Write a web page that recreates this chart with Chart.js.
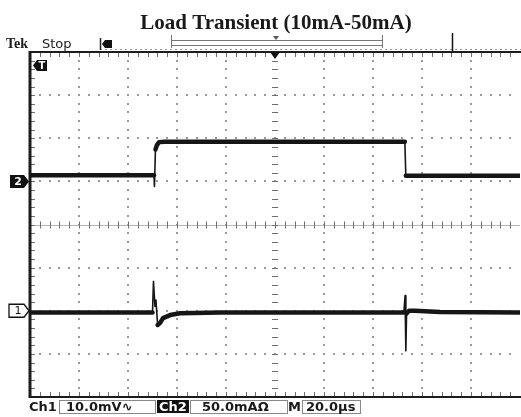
<!DOCTYPE html>
<html>
<head>
<meta charset="utf-8">
<script src="https://cdn.jsdelivr.net/npm/chart.js@4.4.0/dist/chart.umd.min.js"></script>
<style>
  body { margin: 0; background: #fff; }
  #wrap { position: relative; width: 521px; height: 417px; }
</style>
</head>
<body>
<div id="wrap"><canvas id="scopeChart"></canvas></div>
<script>
// time from trigger, µs (20 µs/div, 10 div)
// CH1: output voltage deviation, mV (10 mV/div)
const ch1Time   = [-100, -50.0, -49.6, -49.0, -48.6, -47.9, -46.9, -45.7, -42.8, -38.8, -22.4, 52.6, 53.1, 53.4, 53.7, 54.7, 57.1, 67.3, 100];
const ch1Values = [-0.4, -0.4,   6.8,   1.0,   2.5,  -3.3,  -2.8,  -1.7,  -1.0,  -0.6,  -0.4, -0.4,  3.5, -9.3, -0.6,  0.0,  0.0, -0.3, -0.4];

// CH2: load current, mA (50 mA/div)
const ch2Time   = [-100, -49.4, -49.2, -48.8, -48.2, -47.3, -45.0, 53.0, 53.4, 100];
const ch2Values = [7,     7,    -6,    37,    42,    45.5,  46,    46,   6.5,  6.5];

const titleText = "Load Transient (10mA-50mA)";
const statusLabels = ["Tek", "Stop"];
const readoutLabels = ["Ch1", "10.0mV\u223F", "Ch2", "50.0mA\u03A9", "M", "20.0\u00B5s"];

function toPoints(xs, ys) {
  return xs.map((x, i) => ({ x: x, y: ys[i] }));
}

const graticule = {
  id: "graticule",
  beforeDatasetsDraw(chart) {
    const { ctx, chartArea: a } = chart;
    const dx = (a.right - a.left) / 10;
    const dy = (a.bottom - a.top) / 8;
    const cx = a.left + 5 * dx;
    const cy = a.top + 4 * dy;
    ctx.save();

    // dotted major lines
    ctx.fillStyle = "#9a9a9a";
    for (let i = 1; i < 10; i++) {
      if (i === 5) continue;
      const x = Math.round(a.left + i * dx);
      for (let j = 1; j < 40; j++) ctx.fillRect(x - 1, Math.round(a.top + j * dy / 5) - 1, 2, 2);
    }
    for (let k = 1; k < 8; k++) {
      if (k === 4) continue;
      const y = Math.round(a.top + k * dy);
      for (let m = 1; m < 50; m++) ctx.fillRect(Math.round(a.left + m * dx / 5) - 1, y - 1, 2, 2);
    }

    // centre cross
    ctx.strokeStyle = "#b5b5b5";
    ctx.lineWidth = 1;
    ctx.beginPath();
    ctx.moveTo(a.left, Math.round(cy) + 0.5);
    ctx.lineTo(a.right, Math.round(cy) + 0.5);
    ctx.stroke();

    ctx.strokeStyle = "#6e6e6e";
    ctx.beginPath();
    for (let j = 1; j < 40; j++) {
      const y = Math.round(a.top + j * dy / 5) + 0.5;
      ctx.moveTo(cx - 3, y); ctx.lineTo(cx + 3, y);
      ctx.moveTo(a.left, y); ctx.lineTo(a.left + 5, y);
    }
    for (let m = 1; m < 50; m++) {
      const x = Math.round(a.left + m * dx / 5) + 0.5;
      ctx.moveTo(x, cy - 3); ctx.lineTo(x, cy + 4);
      ctx.moveTo(x, a.top); ctx.lineTo(x, a.top + 5);
      ctx.moveTo(x, a.bottom); ctx.lineTo(x, a.bottom - 5);
    }
    ctx.stroke();

    // frame
    ctx.strokeStyle = "#1c1c1c";
    ctx.lineWidth = 3;
    ctx.beginPath();
    ctx.moveTo(a.left, a.top - 1); ctx.lineTo(a.left, a.bottom + 1);
    ctx.stroke();
    ctx.lineWidth = 2;
    ctx.beginPath();
    ctx.moveTo(a.left, a.top); ctx.lineTo(chart.width, a.top);
    ctx.moveTo(a.left, a.bottom); ctx.lineTo(chart.width, a.bottom);
    ctx.stroke();
    ctx.restore();
  },
  afterDraw(chart) {
    const { ctx, chartArea: a } = chart;
    const xs = chart.scales.x;
    const y1 = chart.scales.y1;
    const y2 = chart.scales.y2;
    ctx.save();

    // title
    ctx.fillStyle = "#1a1a1a";
    ctx.textAlign = "center";
    ctx.textBaseline = "alphabetic";
    ctx.font = 'bold 21px "Liberation Serif"';
    ctx.fillText(titleText, 276, 29);

    // status line
    ctx.textAlign = "left";
    ctx.font = 'bold 14px "Liberation Serif"';
    ctx.fillText(statusLabels[0], 6, 48);
    ctx.font = '13px "DejaVu Sans"';
    ctx.fillText(statusLabels[1], 42, 48);

    ctx.strokeStyle = "#999";
    ctx.lineWidth = 1;
    ctx.setLineDash([2, 3]);
    ctx.beginPath();
    ctx.moveTo(100, 49.5); ctx.lineTo(chart.width, 49.5);
    ctx.stroke();
    ctx.setLineDash([]);

    // record position marker
    ctx.strokeStyle = "#222";
    ctx.lineWidth = 1.5;
    ctx.beginPath();
    ctx.moveTo(100.5, 38); ctx.lineTo(100.5, 50);
    ctx.stroke();
    ctx.fillStyle = "#111";
    ctx.beginPath();
    ctx.moveTo(102, 44); ctx.lineTo(105, 40); ctx.lineTo(112, 40); ctx.lineTo(112, 48); ctx.lineTo(105, 48);
    ctx.closePath(); ctx.fill();

    // acquisition window bracket
    ctx.strokeStyle = "#777";
    ctx.lineWidth = 1;
    ctx.strokeRect(171.5, 40.5, 211, 5);
    ctx.beginPath();
    ctx.moveTo(171.5, 35); ctx.lineTo(171.5, 48);
    ctx.moveTo(382.5, 35); ctx.lineTo(382.5, 48);
    ctx.stroke();
    ctx.fillStyle = "#555";
    ctx.beginPath();
    ctx.moveTo(273, 36); ctx.lineTo(279, 36); ctx.lineTo(276, 40);
    ctx.closePath(); ctx.fill();

    ctx.strokeStyle = "#111";
    ctx.lineWidth = 1.5;
    ctx.beginPath();
    ctx.moveTo(452.5, 33); ctx.lineTo(452.5, 51);
    ctx.stroke();

    // trigger time marker
    const tx = xs.getPixelForValue(0);
    ctx.fillStyle = "#111";
    ctx.beginPath();
    ctx.moveTo(tx - 5, a.top); ctx.lineTo(tx + 5, a.top); ctx.lineTo(tx, a.top + 7);
    ctx.closePath(); ctx.fill();

    // trigger level marker
    ctx.beginPath();
    ctx.moveTo(33, 65.5); ctx.lineTo(37, 60); ctx.lineTo(47, 60); ctx.lineTo(47, 71); ctx.lineTo(37, 71);
    ctx.closePath(); ctx.fill();
    ctx.fillStyle = "#fff";
    ctx.font = 'bold 10px "DejaVu Sans"';
    ctx.textAlign = "center";
    ctx.textBaseline = "middle";
    ctx.fillText("T", 42, 66);

    // channel ground markers
    const g2 = y2.getPixelForValue(0);
    ctx.fillStyle = "#111";
    ctx.beginPath();
    ctx.moveTo(10, g2 - 6.5); ctx.lineTo(24, g2 - 6.5); ctx.lineTo(29, g2); ctx.lineTo(24, g2 + 6.5); ctx.lineTo(10, g2 + 6.5);
    ctx.closePath(); ctx.fill();
    ctx.fillStyle = "#fff";
    ctx.font = 'bold 11px "DejaVu Sans"';
    ctx.fillText("2", 18, g2 + 0.5);

    const g1 = y1.getPixelForValue(0);
    ctx.fillStyle = "#fff";
    ctx.strokeStyle = "#111";
    ctx.lineWidth = 1.3;
    ctx.beginPath();
    ctx.moveTo(9, g1 - 6.5); ctx.lineTo(24, g1 - 6.5); ctx.lineTo(29, g1); ctx.lineTo(24, g1 + 6.5); ctx.lineTo(9, g1 + 6.5);
    ctx.closePath(); ctx.fill(); ctx.stroke();
    ctx.fillStyle = "#111";
    ctx.font = '11px "DejaVu Sans"';
    ctx.fillText("1", 18, g1 + 0.5);

    // bottom readout
    ctx.textAlign = "left";
    ctx.textBaseline = "alphabetic";
    ctx.font = 'bold 13px "DejaVu Sans"';
    ctx.fillStyle = "#1a1a1a";
    ctx.fillText(readoutLabels[0], 29, 411);
    ctx.strokeStyle = "#888";
    ctx.lineWidth = 1;
    ctx.strokeRect(59.5, 400.5, 96, 13);
    ctx.fillText(readoutLabels[1], 66, 411);
    ctx.fillStyle = "#111";
    ctx.fillRect(157, 400, 32, 13);
    ctx.fillStyle = "#fff";
    ctx.fillText(readoutLabels[2], 159, 411);
    ctx.fillStyle = "#1a1a1a";
    ctx.strokeRect(190.5, 400.5, 97, 13);
    ctx.fillText(readoutLabels[3], 202, 411);
    ctx.fillText(readoutLabels[4], 288, 411);
    ctx.strokeRect(302.5, 400.5, 58, 13);
    ctx.fillText(readoutLabels[5], 306, 411);
    ctx.restore();
  }
};

function traceWidth(limit) {
  return (c) => Math.abs(c.p1.parsed.y - c.p0.parsed.y) > limit ? 1.6 : 4.5;
}

document.addEventListener("DOMContentLoaded", () => {
  const ctx = document.getElementById("scopeChart").getContext("2d");
  new Chart(ctx, {
    type: "line",
    data: {
      datasets: [
        {
          label: "Ch1",
          data: toPoints(ch1Time, ch1Values),
          yAxisID: "y1",
          borderColor: "#161616",
          borderWidth: 4.5,
          borderJoinStyle: "round",
          borderCapStyle: "round",
          pointRadius: 0,
          tension: 0,
          segment: { borderWidth: traceWidth(1.2) },
        },
        {
          label: "Ch2",
          data: toPoints(ch2Time, ch2Values),
          yAxisID: "y2",
          borderColor: "#161616",
          borderWidth: 4.5,
          borderJoinStyle: "round",
          borderCapStyle: "round",
          pointRadius: 0,
          tension: 0,
          segment: { borderWidth: traceWidth(8) },
        },
      ],
    },
    options: {
      responsive: true,
      maintainAspectRatio: false,
      animation: false,
      layout: { padding: { left: 30, right: 1, top: 52, bottom: 20 } },
      plugins: { legend: { display: false }, tooltip: { enabled: false } },
      scales: {
        x: { type: "linear", min: -100, max: 100, display: false },
        y1: { type: "linear", min: -20, max: 60, display: false },
        y2: { type: "linear", min: -250, max: 150, display: false },
      },
    },
    plugins: [graticule],
  });
});
</script>
</body>
</html>
